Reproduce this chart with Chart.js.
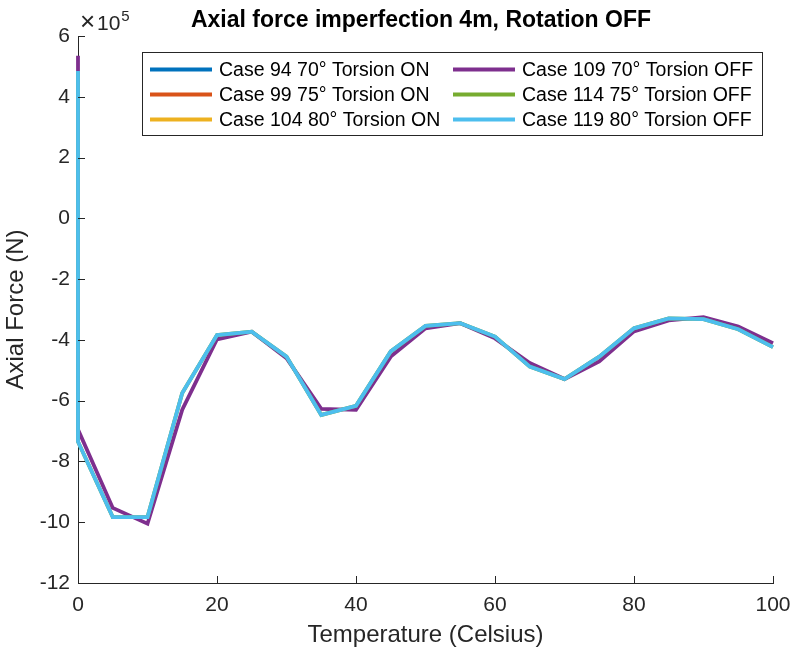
<!DOCTYPE html>
<html>
<head>
<meta charset="utf-8">
<script src="https://cdn.jsdelivr.net/npm/chart.js@4"></script>
<style>
html,body{margin:0;padding:0;background:#fff;}
#wrap{width:795px;height:657px;position:relative;}
</style>
</head>
<body>
<div id="wrap"><canvas id="c" width="795" height="657"></canvas></div>
<script>
// Temperatures (Celsius)
const temps = [0, 0, 5, 10, 15, 20, 25, 30, 35, 40, 45, 50, 55, 60, 65, 70, 75, 80, 85, 90, 95, 100];
// Axial force (×10^5 N)
const case109 = [5.35, -6.95, -9.53, -10.05, -6.3, -3.98, -3.73, -4.6, -6.27, -6.3, -4.55, -3.62, -3.45, -3.95, -4.76, -5.29, -4.71, -3.72, -3.36, -3.25, -3.56, -4.11];
const case119 = [4.85, -7.35, -9.83, -9.83, -5.75, -3.84, -3.73, -4.55, -6.47, -6.17, -4.38, -3.54, -3.45, -3.89, -4.88, -5.29, -4.55, -3.62, -3.29, -3.32, -3.65, -4.24];
const case114 = case119.slice(); // hidden under Case 119
const case94 = [];
const case99 = [];
const case104 = [];
const seriesLabels = ["Case 94 70° Torsion ON", "Case 99 75° Torsion ON", "Case 104 80° Torsion ON",
                      "Case 109 70° Torsion OFF", "Case 114 75° Torsion OFF", "Case 119 80° Torsion OFF"];
const seriesColors = ["#0072BD", "#D95319", "#EDB120", "#7E2F8E", "#77AC30", "#4DBEEE"];
const seriesValues = [case94, case99, case104, case109, case114, case119];
const yTicks = [6, 4, 2, 0, -2, -4, -6, -8, -10, -12];
const xTicks = [0, 20, 40, 60, 80, 100];
const SCALE = 1e5;

const FONT = "'Liberation Sans', Arial, Helvetica, sans-serif";
const AXC = "#262626";

const datasets = seriesValues.map((vals, i) => ({
  label: seriesLabels[i],
  data: vals.map((v, j) => ({x: temps[j], y: v * SCALE})),
  borderColor: seriesColors[i],
  backgroundColor: seriesColors[i],
  borderWidth: 3.8,
  pointRadius: 0,
  tension: 0,
  fill: false,
  clip: false,
  order: 6 - i
}));

const decor = {
  id: 'decor',
  afterDraw(chart) {
    const ctx = chart.ctx;
    const xs = chart.scales.x, ys = chart.scales.y;
    const ca = chart.chartArea;
    ctx.save();
    // inward ticks
    ctx.strokeStyle = AXC; ctx.lineWidth = 1;
    yTicks.forEach(t => {
      const py = Math.round(ys.getPixelForValue(t * SCALE)) + 0.5;
      ctx.beginPath(); ctx.moveTo(ca.left, py); ctx.lineTo(ca.left + 7, py); ctx.stroke();
    });
    xTicks.forEach(t => {
      const px = Math.round(xs.getPixelForValue(t)) + 0.5;
      ctx.beginPath(); ctx.moveTo(px, ca.bottom); ctx.lineTo(px, ca.bottom - 7); ctx.stroke();
    });
    // exponent label
    ctx.fillStyle = AXC;
    ctx.textBaseline = 'alphabetic';
    ctx.textAlign = 'left';
    ctx.font = "26px " + FONT;
    ctx.fillText("×", 80, 30);
    ctx.font = "21px " + FONT;
    ctx.fillText("10", 97, 30);
    const w = ctx.measureText("10").width;
    ctx.font = "15px " + FONT;
    ctx.fillText("5", 97 + w + 1, 21);
    // title
    ctx.fillStyle = "#000";
    ctx.font = "bold 23px " + FONT;
    ctx.textAlign = 'center';
    ctx.textBaseline = 'alphabetic';
    ctx.fillText("Axial force imperfection 4m, Rotation OFF", 421, 27);
    // legend
    const bx = 142.5, by = 52.5, bw = 620, bh = 83;
    ctx.fillStyle = "#fff";
    ctx.fillRect(bx, by, bw, bh);
    ctx.strokeStyle = "#262626"; ctx.lineWidth = 1;
    ctx.strokeRect(bx, by, bw, bh);
    ctx.font = "19.5px " + FONT;
    ctx.textAlign = 'left';
    ctx.textBaseline = 'middle';
    const colX = [150, 453];
    const rowY = [69.5, 94.5, 119.5];
    chart.data.datasets.forEach((ds, i) => {
      const c = Math.floor(i / 3), r = i % 3;
      const lx = colX[c], ly = rowY[r];
      ctx.strokeStyle = ds.borderColor; ctx.lineWidth = 3.8;
      ctx.beginPath(); ctx.moveTo(lx, ly); ctx.lineTo(lx + 62, ly); ctx.stroke();
      ctx.fillStyle = "#000";
      ctx.fillText(ds.label, lx + 69, ly + 1);
    });
    ctx.restore();
  }
};

new Chart(document.getElementById('c'), {
  type: 'line',
  data: { datasets },
  options: {
    responsive: false,
    animation: false,
    layout: { padding: { top: 36, right: 22, bottom: 0, left: 0 } },
    plugins: { legend: { display: false }, title: { display: false }, tooltip: { enabled: false } },
    scales: {
      x: {
        type: 'linear', min: 0, max: 100,
        afterFit(s) { s.height = 74; s.paddingLeft = 0; s.paddingRight = 0; },
        afterBuildTicks(s) { s.ticks = xTicks.map(v => ({value: v})); },
        grid: { display: true, drawOnChartArea: false, drawTicks: false },
        border: { display: true, color: AXC, width: 1 },
        ticks: { color: AXC, font: { family: FONT, size: 21 }, padding: 10, maxRotation: 0 },
        title: { display: true, text: "Temperature (Celsius)", color: AXC, font: { family: FONT, size: 24 }, padding: { top: 0, bottom: 7 } }
      },
      y: {
        type: 'linear', min: -12 * SCALE, max: 6 * SCALE,
        afterFit(s) { s.width = 78; s.paddingTop = 0; s.paddingBottom = 0; },
        afterBuildTicks(s) { s.ticks = yTicks.map(v => ({value: v * SCALE})); },
        grid: { display: true, drawOnChartArea: false, drawTicks: false },
        border: { display: true, color: AXC, width: 1 },
        ticks: { color: AXC, font: { family: FONT, size: 21 }, padding: 8, callback: v => String(v / SCALE) },
        title: { display: true, text: "Axial Force (N)", color: AXC, font: { family: FONT, size: 24 }, padding: { top: 2, bottom: 0 } }
      }
    }
  },
  plugins: [decor]
});
</script>
</body>
</html>
